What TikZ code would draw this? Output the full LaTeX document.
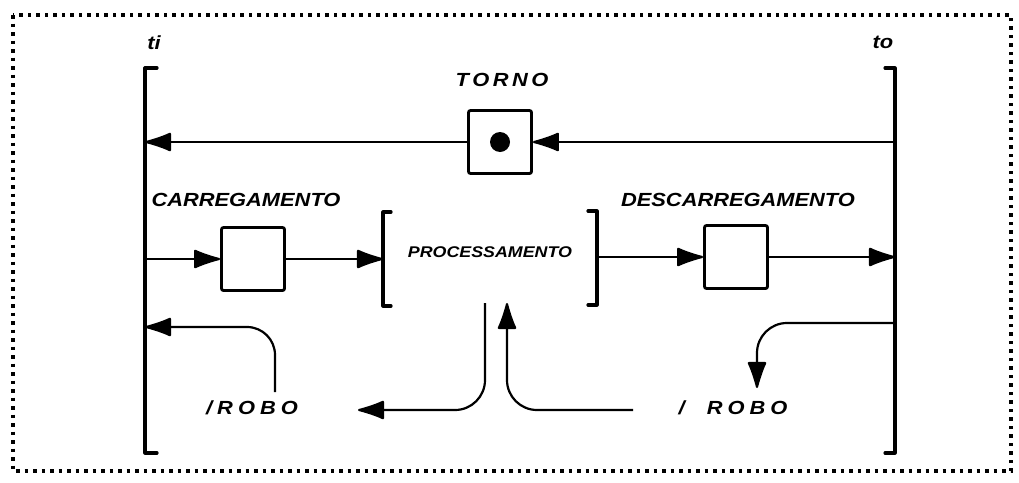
\documentclass[tikz,border=0pt]{standalone}
\usepackage{fontspec}
\newfontfamily\lblfont{Liberation Sans}[FakeStretch=1.15]
\usetikzlibrary{arrows.meta}
\begin{document}
\begin{tikzpicture}[x=1pt,y=-1pt,
 lbl/.style={font=\lblfont\bfseries\itshape\fontsize{19}{19}\selectfont, inner sep=0},
 small/.style={font=\lblfont\bfseries\itshape\fontsize{15.5}{15.5}\selectfont, inner sep=0},
 boxn/.style={draw, line width=2.8pt, rounded corners=2pt, minimum width=63pt, minimum height=63pt, inner sep=0},
 conn/.style={line width=2.2pt},
 arr/.style={conn, -{Latex[length=30pt,width=20pt,round]}},
 brk/.style={line width=3.2pt, line cap=round, line join=round}]
\useasboundingbox (0,0) rectangle (1019,482);
\draw[line width=3.5pt, dash pattern=on 3.5pt off 5pt] (13,15) rectangle (1011,471);
% outer brackets
\draw[brk] (157,68) -- (145,68) -- (145,453) -- (157,453);
\draw[brk] (885,68) -- (895,68) -- (895,453) -- (885,453);
\coordinate (Lt) at (145,142);
\coordinate (Lc) at (145,259);
\coordinate (Lr) at (145,327);
\coordinate (Rt) at (895,142);
\coordinate (Rc) at (895,257);
\coordinate (Rr) at (895,323);
% processamento brackets
\draw[brk] (391,212) -- (383,212) -- (383,306) -- (391,306);
\draw[brk] (588,211) -- (597,211) -- (597,305) -- (588,305);
\coordinate (Pl) at (383,259);
\coordinate (Pr) at (597,257);
\coordinate (Pd) at (485,303);
\coordinate (Pu) at (507,303);
% boxes
\node[boxn] (torno) at (500,142) {};
\fill (torno.center) circle (10);
\node[boxn] (carr) at (253,259) {};
\node[boxn] (desc) at (736,257) {};
% labels
\node[lbl] (ti) at (154,43) {ti};
\node[lbl] (to) at (883,42) {to};
\node[lbl] (tornol) at (502,80) {T\kern3.5pt O\kern3.5pt R\kern3.5pt N\kern3.5pt O};
\node[lbl] (carrl) at (246,200) {CARREGAMENTO};
\node[lbl] (descl) at (738,200) {DESCARREGAMENTO};
\node[small] (proc) at (490,252) {PROCESSAMENTO};
\node[lbl] (robo1) at (252,408) {/\kern5pt R\kern5pt O\kern5pt B\kern5pt O};
\node[lbl] (robo2) at (733,408) {/\kern22pt R\kern5pt O\kern5pt B\kern5pt O};
\coordinate (r1) at (275,392);
\coordinate (m1) at (358,410);
\coordinate (m2) at (633,410);
\coordinate (r2) at (757,388);
% connectors
\draw[arr] (Rt) -- (torno.east);
\draw[arr] (torno.west) -- (Lt);
\draw[arr] (Lc) -- (carr.west);
\draw[arr] (carr.east) -- (Pl);
\draw[arr] (Pr) -- (desc.west);
\draw[arr] (desc.east) -- (Rc);
\draw[arr, rounded corners=28pt] (r1) |- (Lr);
\draw[arr, rounded corners=30pt] (Pd) |- (m1);
\draw[arr, rounded corners=30pt] (m2) -| (Pu);
\draw[arr, rounded corners=30pt] (Rr) -| (r2);
\end{tikzpicture}
\end{document}
